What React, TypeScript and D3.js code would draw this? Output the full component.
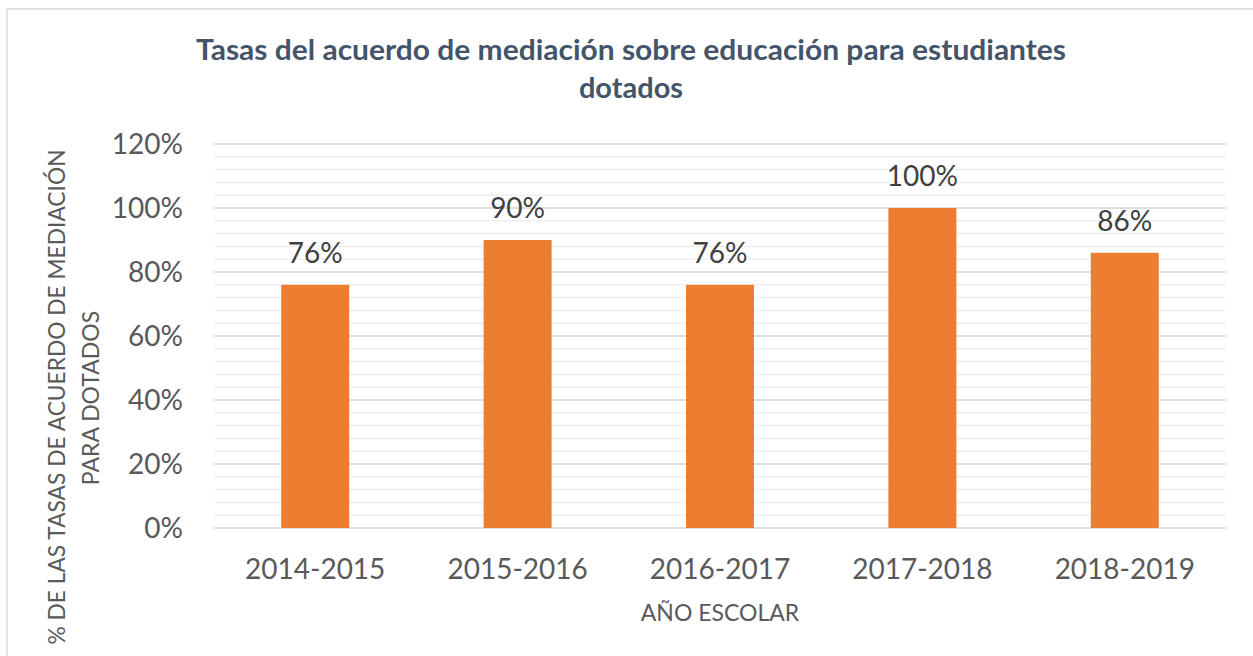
import React from "react";
import * as d3 from "d3";

const categories = ["2014-2015", "2015-2016", "2016-2017", "2017-2018", "2018-2019"];
const values = [0.76, 0.9, 0.76, 1.0, 0.86];
const yTicks = [0, 0.2, 0.4, 0.6, 0.8, 1.0, 1.2];
const titleLines = ["Tasas del acuerdo de mediación sobre educación para estudiantes", "dotados"];
const yTitleLines = ["% DE LAS TASAS DE ACUERDO DE MEDIACIÓN", "PARA DOTADOS"];
const xTitle = "AÑO ESCOLAR";

const W = 1253;
const H = 656;
const plot = { left: 214, right: 1226, top: 144, bottom: 528 };
const FONT = "Lato, 'Open Sans', sans-serif";

export default function App() {
  const x = d3.scaleBand<string>().domain(categories).range([plot.left, plot.right]).paddingInner(0.664).paddingOuter(0.332);
  const y = d3.scaleLinear().domain([0, 1.2]).range([plot.bottom, plot.top]);
  const minor = d3.range(0, 1.2001, 0.04);
  const fmt = d3.format(".0%");
  const yMid = (plot.top + plot.bottom) / 2 + 61;

  return (
    <svg width={W} height={H} style={{ position: "absolute", left: 0, top: 0, background: "#fff" }} fontFamily={FONT}>
      <rect x={0} y={0} width={W} height={H} fill="#fff" />
      <rect x={7} y={9} width={W + 50} height={H + 50} fill="none" stroke="#d9d9d9" strokeWidth={1.5} />
      <text x={631} y={60} textAnchor="middle" fontSize={29} fontWeight="bold" fill="#44546A" textLength={870} lengthAdjust="spacingAndGlyphs">{titleLines[0]}</text>
      <text x={631} y={98} textAnchor="middle" fontSize={29} fontWeight="bold" fill="#44546A">{titleLines[1]}</text>
      {minor.map((t, i) => (
        <line key={"m" + i} x1={plot.left} x2={plot.right} y1={y(t)} y2={y(t)} stroke="#efefef" strokeWidth={1.5} />
      ))}
      {yTicks.map((t, i) => (
        <g key={"t" + i}>
          <line x1={plot.left} x2={plot.right} y1={y(t)} y2={y(t)} stroke="#d9d9d9" strokeWidth={1.5} />
          <text x={183} y={y(t) + 10} textAnchor="end" fontSize={28} fill="#595959">{fmt(t)}</text>
        </g>
      ))}
      {categories.map((c, i) => (
        <g key={c}>
          <rect x={x(c)} y={y(values[i])} width={x.bandwidth()} height={y(0) - y(values[i])} fill="#ED7D31" />
          <text x={(x(c) as number) + x.bandwidth() / 2} y={y(values[i]) - 22} textAnchor="middle" fontSize={28} fill="#404040">{fmt(values[i])}</text>
          <text x={(x(c) as number) + x.bandwidth() / 2} y={579} textAnchor="middle" fontSize={28} fill="#595959">{c}</text>
        </g>
      ))}
      <text x={720} y={621} textAnchor="middle" fontSize={23} fill="#595959">{xTitle}</text>
      <text transform={`translate(65,${397}) rotate(-90)`} textAnchor="middle" fontSize={23} fill="#595959" textLength={495} lengthAdjust="spacingAndGlyphs">{yTitleLines[0]}</text>
      <text transform={`translate(99,${398}) rotate(-90)`} textAnchor="middle" fontSize={23} fill="#595959">{yTitleLines[1]}</text>
    </svg>
  );
}
